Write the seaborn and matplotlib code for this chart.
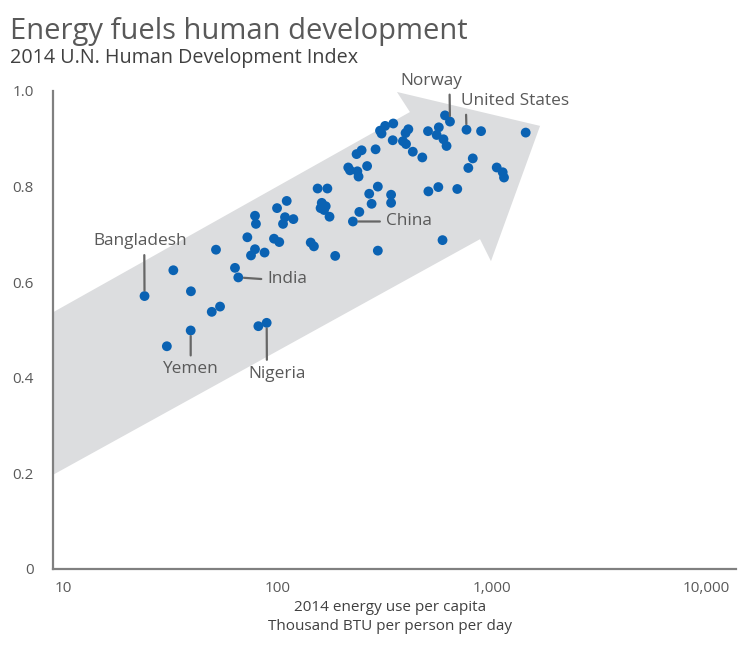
import numpy as np
import pandas as pd
import matplotlib
matplotlib.use('Agg')
import matplotlib.pyplot as plt
import seaborn as sns
from matplotlib.patches import Polygon
from matplotlib.ticker import FixedLocator, FixedFormatter

# energy use per capita (thousand BTU per person per day) and 2014 HDI
energy = [24, 30.5, 32.7, 39.5, 39.4, 49.4, 54, 51.7, 63.4, 65.7, 72.4, 78.6, 79.4, 78.6,
          75.3, 87.1, 81.5, 89.1, 96.4, 102, 99.6, 110.5, 108.5, 118.7, 106.2, 143, 148,
          154, 171, 186, 161, 168, 159, 165, 175, 214, 218, 236, 239, 247, 234, 262, 287,
          294, 268, 275, 339, 339, 241, 225, 294, 301, 306, 318, 347, 408, 396, 345, 385,
          398, 428, 474, 504, 553, 566, 595, 615, 605, 638, 762, 891, 1439, 815, 777, 1054,
          1124, 1140, 506, 563, 690, 589]
hdi = [0.571, 0.466, 0.625, 0.581, 0.499, 0.538, 0.549, 0.668, 0.630, 0.610, 0.694, 0.739,
       0.722, 0.669, 0.656, 0.662, 0.508, 0.515, 0.691, 0.684, 0.755, 0.770, 0.736, 0.732,
       0.722, 0.683, 0.675, 0.796, 0.796, 0.655, 0.766, 0.759, 0.755, 0.751, 0.737, 0.840,
       0.834, 0.832, 0.821, 0.876, 0.868, 0.843, 0.878, 0.800, 0.785, 0.764, 0.783, 0.766,
       0.747, 0.727, 0.666, 0.917, 0.911, 0.927, 0.932, 0.920, 0.912, 0.897, 0.895, 0.889,
       0.873, 0.861, 0.916, 0.908, 0.924, 0.899, 0.885, 0.949, 0.936, 0.919, 0.916, 0.913,
       0.859, 0.839, 0.840, 0.830, 0.819, 0.790, 0.799, 0.795, 0.688]

names = ['Bangladesh', 'Yemen', 'Nigeria', 'India', 'China', 'Norway', 'United States']
name_energy = [24, 39.4, 89.1, 65.7, 225, 638, 762]
name_hdi = [0.571, 0.499, 0.515, 0.610, 0.727, 0.936, 0.919]

x_ticks = [10, 100, 1000, 10000]
x_ticklabels = ['10', '100', '1,000', '10,000']
y_ticks = [0, 0.2, 0.4, 0.6, 0.8, 1.0]
y_ticklabels = ['0', '0.2', '0.4', '0.6', '0.8', '1.0']

df = pd.DataFrame({'energy': energy, 'hdi': hdi})

sns.set_style('white')
plt.rcParams['font.family'] = ['Open Sans', 'DejaVu Sans']

W, H = 738, 646
fig = plt.figure(figsize=(W / 100, H / 100), dpi=100)
ax = fig.add_axes([53 / W, (H - 569) / H, (736 - 53) / W, (569 - 91) / H])

xmin, xmax = 8.98, 13770
ax.set_xscale('log')
ax.set_xlim(xmin, xmax)
ax.set_ylim(0, 1.0)

# big grey arrow behind the dots
arrow_x = [xmin, 881, 991, 1679, 361, 415, xmin]
arrow_y = [0.197, 0.690, 0.644, 0.927, 0.998, 0.956, 0.537]
ax.add_patch(Polygon(list(zip(arrow_x, arrow_y)), closed=True, facecolor='#dcdddf',
                     edgecolor='none', zorder=0))

sns.scatterplot(data=df, x='energy', y='hdi', ax=ax, color='#0a62b3', s=50,
                edgecolor='none', zorder=3)

# country call-outs: (offset px, ha, va, relpos)
call = {
    'Bangladesh': ((-4, 47), 'center', 'bottom', (0.54, 0)),
    'Yemen': ((0, -31), 'center', 'top', (0.5, 1)),
    'Nigeria': ((10, -43), 'center', 'top', (0.33, 1)),
    'India': ((29, -2), 'left', 'center', (0, 0.5)),
    'China': ((33, 0), 'left', 'center', (0, 0.5)),
    'Norway': ((-19, 33), 'center', 'bottom', (0.8, 0)),
    'United States': ((-6, 21), 'left', 'bottom', (0.05, 0)),
}
for n, xv, yv in zip(names, name_energy, name_hdi):
    off, ha, va, rp = call[n]
    ax.annotate(n, xy=(xv, yv), xytext=(off[0], off[1]), textcoords='offset pixels',
                ha=ha, va=va, fontsize=12.4, color='#595959', zorder=4,
                arrowprops=dict(arrowstyle='-', color='#666666', lw=1.6,
                                shrinkA=2, shrinkB=4, relpos=rp))

ax.xaxis.set_major_locator(FixedLocator(x_ticks))
ax.xaxis.set_major_formatter(FixedFormatter(x_ticklabels))
ax.xaxis.set_minor_locator(FixedLocator([]))
ax.set_yticks(y_ticks)
ax.set_yticklabels(y_ticklabels)
ax.tick_params(axis='both', length=0, labelsize=11, labelcolor='#595959')
ax.tick_params(axis='y', pad=14)
ax.tick_params(axis='x', pad=9)

sns.despine(ax=ax)
for side in ['left', 'bottom']:
    ax.spines[side].set_color('#808080')
    ax.spines[side].set_linewidth(1.6)

ax.set_xlabel('2014 energy use per capita\nThousand BTU per person per day',
              fontsize=11, color='#404040', labelpad=6, linespacing=1.35)
ax.xaxis.set_label_coords((390 - 53) / (736 - 53), -(617 - 569) / (569 - 91))
ax.xaxis.label.set_va('center')
ax.set_ylabel('')

fig.text(10 / W, 1 - 39 / H, 'Energy fuels human development', fontsize=21,
         color='#595959', ha='left', va='baseline')
fig.text(10 / W, 1 - 63 / H, '2014 U.N. Human Development Index', fontsize=14.2,
         color='#404040', ha='left', va='baseline')

fig.savefig('out.png', dpi=100)
